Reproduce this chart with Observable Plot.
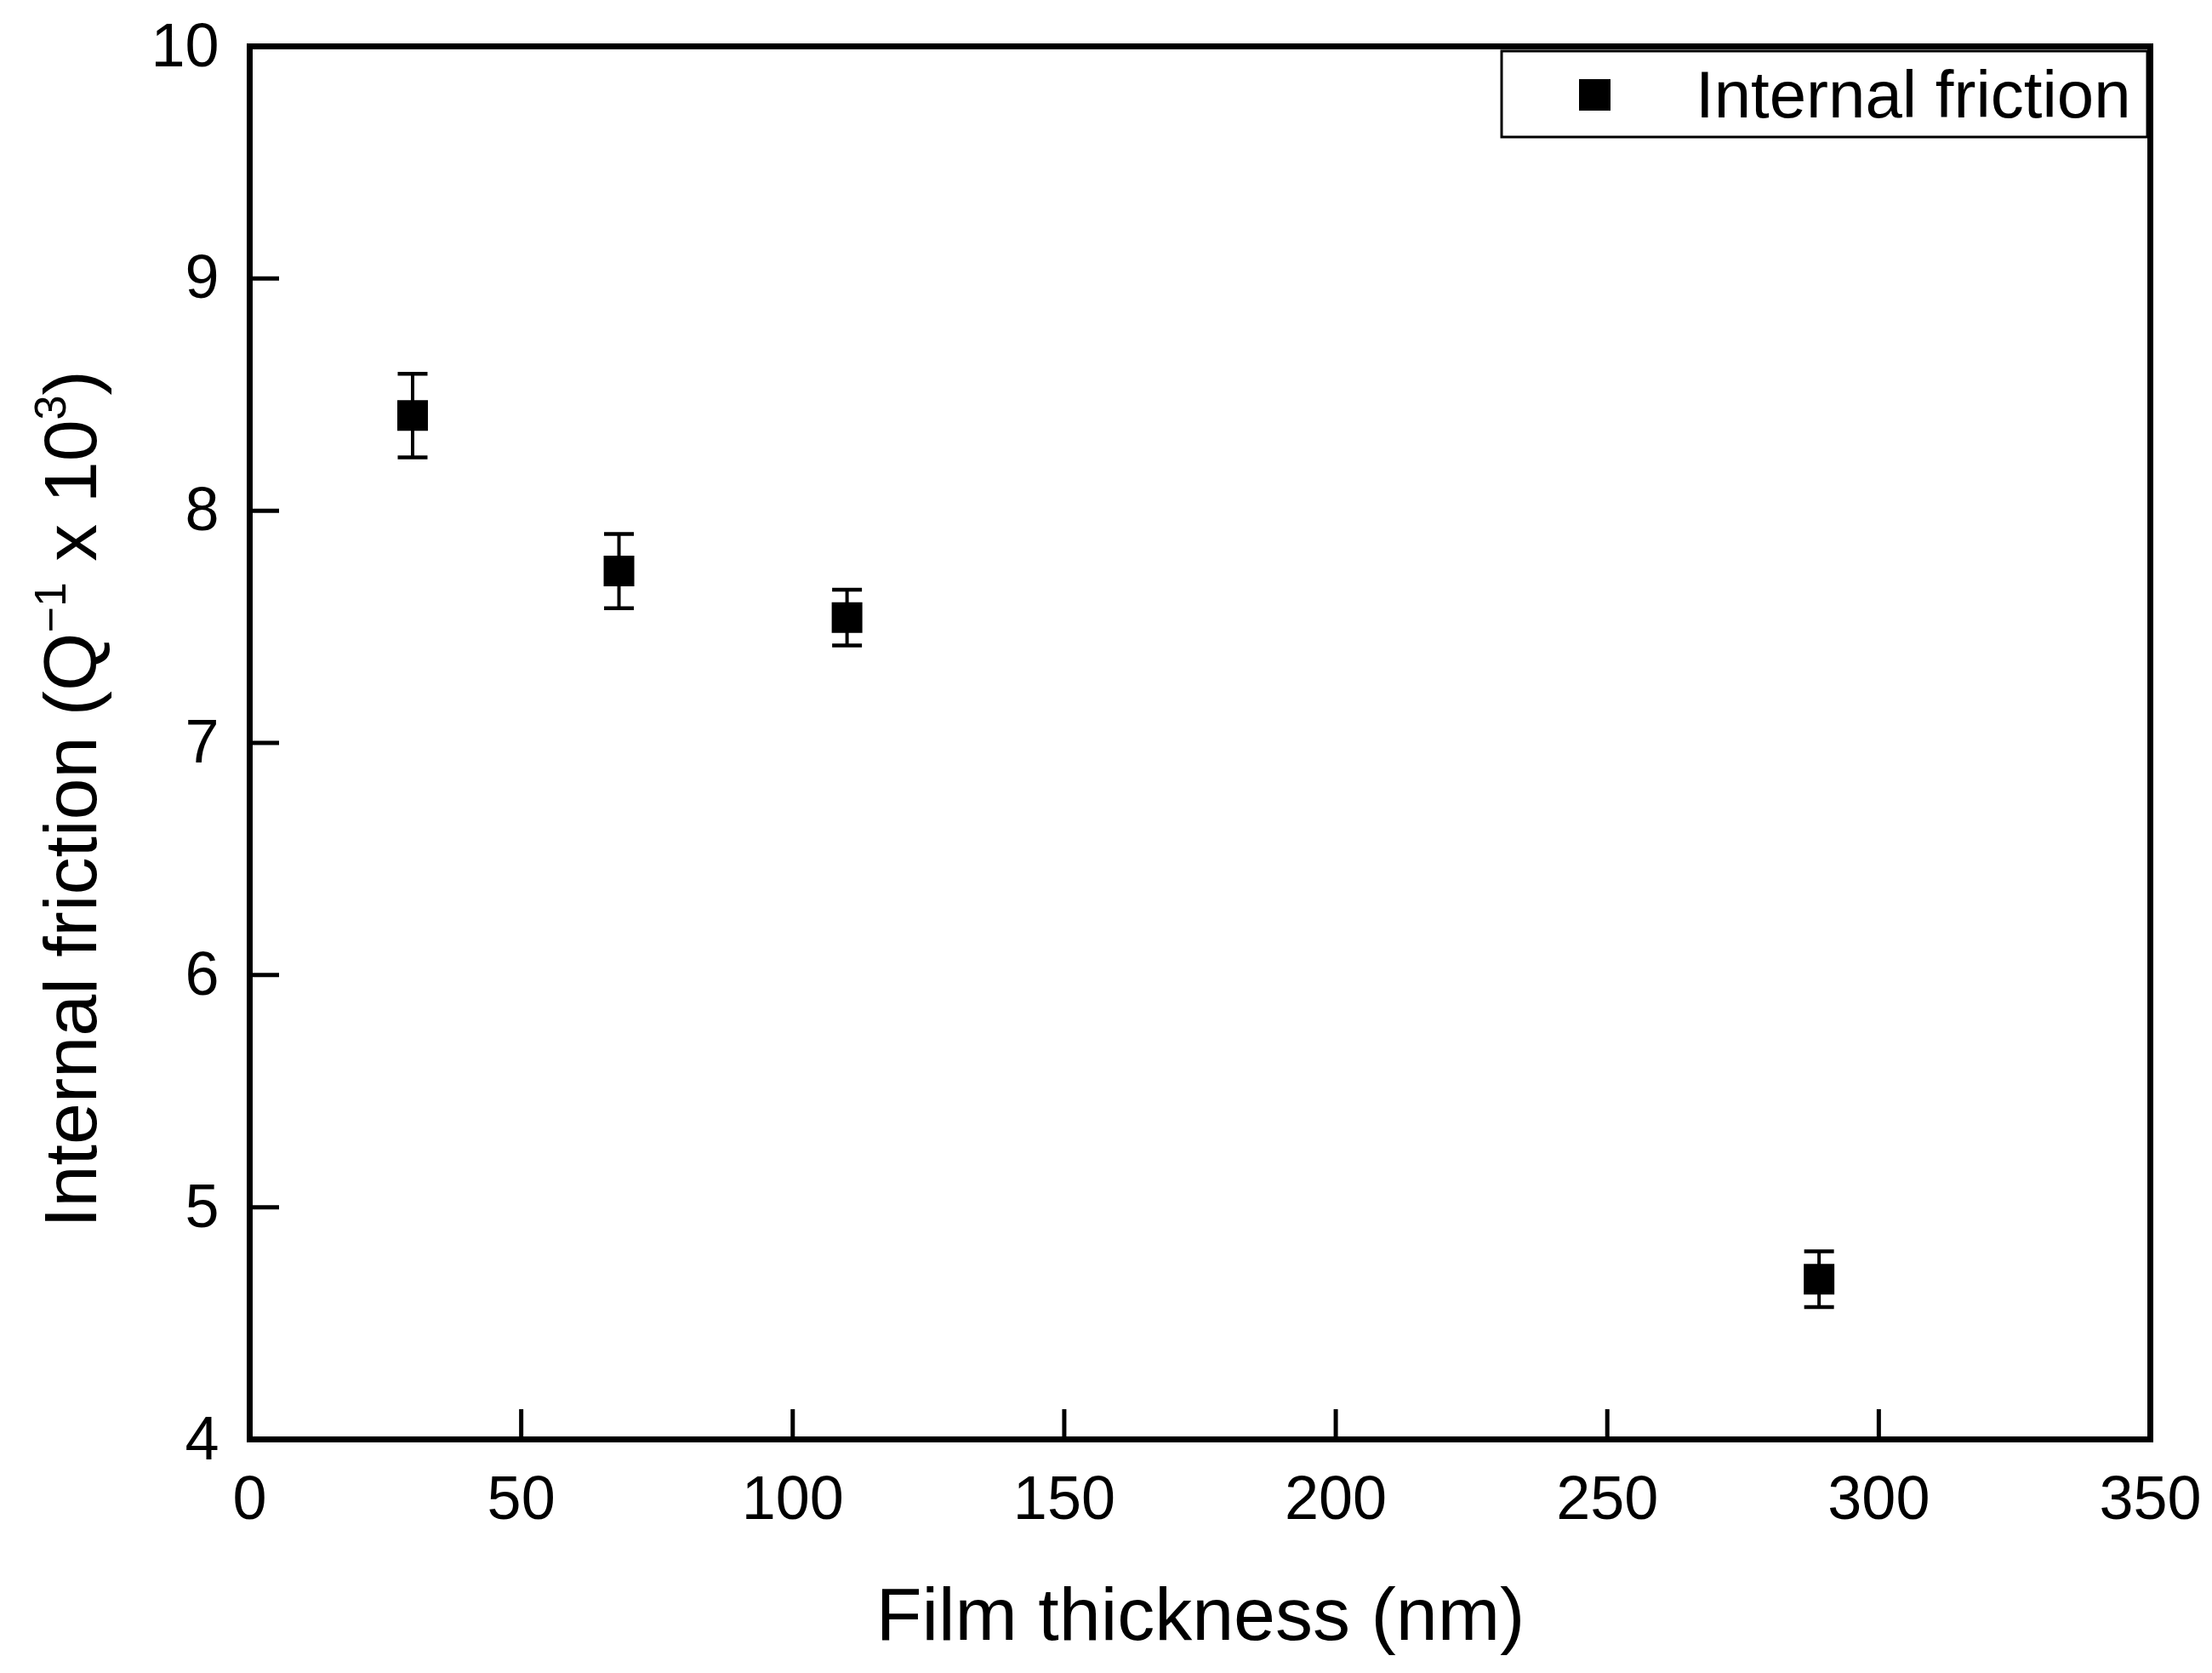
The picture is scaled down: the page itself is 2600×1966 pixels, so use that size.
<!DOCTYPE html>
<html><head><meta charset="utf-8">
<script src="https://cdn.jsdelivr.net/npm/d3@7"></script>
<script src="https://cdn.jsdelivr.net/npm/@observablehq/plot@0.6"></script>
<style>html,body{margin:0;padding:0;background:#fff;} svg{display:block}</style>
</head><body><div id="chart"></div>
<script>
const thickness = [30, 68, 110, 289];
const friction = [8.41, 7.74, 7.54, 4.69];
const frictionErr = [0.18, 0.16, 0.12, 0.12];
const xTicks = [0, 50, 100, 150, 200, 250, 300, 350];
const yTicks = [4, 5, 6, 7, 8, 9, 10];
const seriesName = "Internal friction";
const xTitle = "Film thickness (nm)";
const yTitleMain = "Internal friction (Q";
const yTitleSup1 = "\u22121";
const yTitleMid = " x 10";
const yTitleSup2 = "3";
const yTitleEnd = ")";

const data = thickness.map((t, i) => ({t, f: friction[i], lo: friction[i] - frictionErr[i], hi: friction[i] + frictionErr[i]}));

const capSymbol = {draw(context, size) { const w = Math.sqrt(size / Math.PI); context.moveTo(-w, 0); context.lineTo(w, 0); }};

const FONT = "'Liberation Sans', Arial, Helvetica, sans-serif";
const chart = Plot.plot({
  width: 2600, height: 1966,
  marginLeft: 293, marginRight: 73, marginTop: 54, marginBottom: 275,
  style: {fontFamily: FONT, background: "#fff", color: "#000"},
  x: {domain: [0, 350]},
  y: {domain: [4, 10]},
  marks: [
    Plot.ruleX(data, {x: "t", y1: "lo", y2: "hi", stroke: "#000", strokeWidth: 4}),
    Plot.dot(data, {x: "t", y: "hi", symbol: capSymbol, r: 17.5, stroke: "#000", strokeWidth: 4.5, fill: "none"}),
    Plot.dot(data, {x: "t", y: "lo", symbol: capSymbol, r: 17.5, stroke: "#000", strokeWidth: 4.5, fill: "none"}),
    Plot.dot(data, {x: "t", y: "f", symbol: "square", r: 20.3, fill: "#000", stroke: "none"}),
    Plot.axisX(xTicks, {tickSize: -35, tickPadding: 77, fontSize: 72, strokeWidth: 5, label: null, tickFormat: d => String(d), fill: "#000", stroke: "#000"}),
    Plot.axisY(yTicks, {tickSize: -35, tickPadding: 71, fontSize: 72, strokeWidth: 5, label: null, tickFormat: d => String(d), fill: "#000", stroke: "#000"}),
    Plot.frame({stroke: "#000", strokeWidth: 7})
  ]
});
document.getElementById("chart").appendChild(chart);

const svg = d3.select(chart);
// x-axis title
svg.append("text")
  .attr("x", 1411).attr("y", 1927)
  .attr("text-anchor", "middle")
  .attr("font-family", FONT).attr("font-size", 88).attr("fill", "#000")
  .text(xTitle);
// y-axis title with superscripts
const yt = svg.append("text")
  .attr("transform", "translate(113,939) rotate(-90)")
  .attr("text-anchor", "middle")
  .attr("font-family", FONT).attr("font-size", 88).attr("fill", "#000");
yt.append("tspan").text(yTitleMain);
yt.append("tspan").attr("font-size", 52).attr("dy", -36).text(yTitleSup1);
yt.append("tspan").attr("dy", 36).text(yTitleMid);
yt.append("tspan").attr("font-size", 52).attr("dy", -36).text(yTitleSup2);
yt.append("tspan").attr("dy", 36).text(yTitleEnd);
// legend
const lg = svg.append("g");
lg.append("rect").attr("x", 1765).attr("y", 60).attr("width", 759).attr("height", 101)
  .attr("fill", "#fff").attr("stroke", "#000").attr("stroke-width", 3);
lg.append("rect").attr("x", 1856).attr("y", 93).attr("width", 37).attr("height", 37).attr("fill", "#000");
lg.append("text").attr("x", 1993).attr("y", 138)
  .attr("text-anchor", "start")
  .attr("font-family", FONT).attr("font-size", 78).attr("fill", "#000")
  .text(seriesName);
</script>
</body></html>
